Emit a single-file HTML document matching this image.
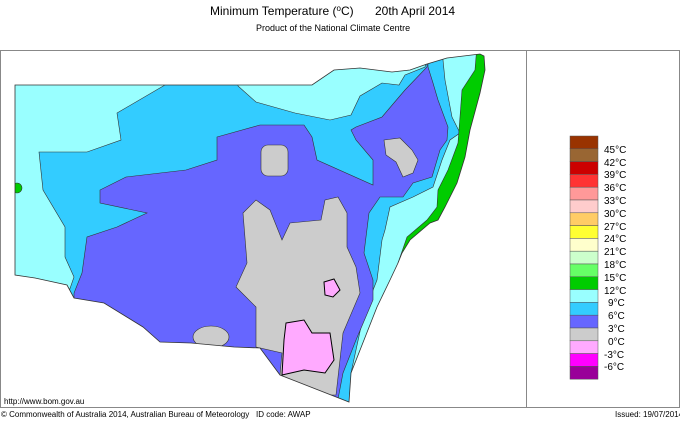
<!DOCTYPE html><html><head><style>
body{margin:0;background:#fff;width:680px;height:420px;overflow:hidden;font-family:"Liberation Sans",Arial,sans-serif}
</style></head><body>
<svg width="680" height="420" viewBox="0 0 680 420" xmlns="http://www.w3.org/2000/svg" font-family="Liberation Sans, Arial, sans-serif">
<text x="210" y="15" font-size="12">Minimum Temperature (<tspan font-size="8" dy="-4">o</tspan><tspan dy="4">C)</tspan></text>
<text x="375" y="15" font-size="12">20th April 2014</text>
<text x="256" y="31" font-size="9">Product of the National Climate Centre</text>
<rect x="0.5" y="50.5" width="679" height="357" fill="none" stroke="#888"/>
<line x1="526.5" y1="50" x2="526.5" y2="408" stroke="#888"/>
<defs><clipPath id="st"><path id="sp" d="M15,85 L312,85 L334,70 L360,68 L392,72 L410,70 L427,64 L447,58 L480,54 L484,56 L485,70 L480,93 L470,130 L465,157 L457,183 L445,207 L438,220 L430,223 L410,240 L402,253 L398,263 L390,280 L377,307 L364,340 L351,373 L349,402 L280,375 L260,348 L234,347 L191,343 L160,342 L143,327 L104,303 L74,298 L67,285 L35,278 L15,275 Z"/></clipPath></defs>
<g clip-path="url(#st)" stroke="#333" stroke-width="0.6">
<rect x="0" y="40" width="520" height="380" fill="#99ffff" stroke="none"/>
<path fill="#33ccff" d="M165,40 L238,40 L238,86 L256,102 L295,113 L330,120 L351,115 L360,96 L382,83 L399,85 L405,75 L425,67 L430,45 L443,45 L443,60 L445,80 L452,117 L460,133 L450,140 L442,160 L433,187 L413,197 L390,207 L385,230 L382,240 L377,280 L364,313 L351,373 L351,420 L66,420 L66,300 L74,277 L65,257 L65,227 L43,190 L39,152 L87,152 L121,140 L117,113 L165,85 Z"/>
<path fill="#00cc00" d="M477,45 L500,45 L500,270 L398,263 L407,237 L427,220 L437,207 L438,190 L448,170 L458,143 L460,117 L462,90 L475,70 Z"/>
<path fill="#6666ff" d="M217,137 L260,125 L304,125 L312,137 L317,160 L373,185 L373,160 L356,140 L351,130 L356,127 L382,117 L399,97 L405,90 L427,67 L428,45 L428,67 L433,83 L438,100 L448,127 L447,140 L440,150 L432,177 L413,183 L403,197 L380,197 L369,213 L364,253 L373,280 L373,300 L356,340 L343,373 L334,420 L74,420 L74,293 L82,273 L87,237 L117,227 L147,213 L100,203 L100,190 L126,177 L186,170 L217,160 Z"/>
<rect x="261" y="145" width="27" height="31" rx="7" fill="#cccccc"/>
<path fill="#cccccc" d="M384,140 L400,138 L412,150 L418,160 L413,173 L403,177 L396,162 L386,155 Z"/>
<path fill="#cccccc" d="M243,213 L256,200 L270,210 L282,240 L290,223 L321,220 L325,200 L338,197 L347,213 L347,247 L356,267 L360,293 L343,333 L336,395 L303,395 L280,375 L282,353 L256,347 L256,307 L236,287 L247,263 Z"/>
<ellipse cx="211" cy="337" rx="18" ry="11" fill="#cccccc"/>
<path fill="#ffaaff" stroke="#000" stroke-width="1" d="M286,323 L304,320 L312,333 L330,333 L334,360 L325,373 L304,370 L282,375 L284,340 Z"/>
<path fill="#ffaaff" stroke="#000" stroke-width="1" d="M324,282 L334,279 L340,290 L333,297 L325,295 Z"/>
<ellipse cx="17" cy="188" rx="5" ry="5" fill="#00cc00"/>
</g>
<use href="#sp" fill="none" stroke="#333" stroke-width="0.8"/>
<g stroke="#555" stroke-width="0.5">
<rect x="570" y="136" width="28" height="12.8" fill="#993300"/>
<rect x="570" y="148.8" width="28" height="12.8" fill="#996633"/>
<rect x="570" y="161.6" width="28" height="12.8" fill="#cc0000"/>
<rect x="570" y="174.4" width="28" height="12.8" fill="#ff3333"/>
<rect x="570" y="187.2" width="28" height="12.8" fill="#ff9999"/>
<rect x="570" y="200" width="28" height="12.8" fill="#ffcccc"/>
<rect x="570" y="212.8" width="28" height="12.8" fill="#ffcc66"/>
<rect x="570" y="225.6" width="28" height="12.8" fill="#ffff33"/>
<rect x="570" y="238.4" width="28" height="12.8" fill="#ffffcc"/>
<rect x="570" y="251.2" width="28" height="12.8" fill="#ccffcc"/>
<rect x="570" y="264" width="28" height="12.8" fill="#66ff66"/>
<rect x="570" y="276.8" width="28" height="12.8" fill="#00cc00"/>
<rect x="570" y="289.6" width="28" height="12.8" fill="#99ffff"/>
<rect x="570" y="302.4" width="28" height="12.8" fill="#33ccff"/>
<rect x="570" y="315.2" width="28" height="12.8" fill="#6666ff"/>
<rect x="570" y="328" width="28" height="12.8" fill="#cccccc"/>
<rect x="570" y="340.8" width="28" height="12.8" fill="#ffaaff"/>
<rect x="570" y="353.6" width="28" height="12.8" fill="#ff00ff"/>
<rect x="570" y="366.4" width="28" height="12.8" fill="#990099"/>
</g>
<g font-size="10" fill="#000">
<text x="604" y="153">45°C</text><text x="604" y="166">42°C</text><text x="604" y="178">39°C</text><text x="604" y="191">36°C</text><text x="604" y="204">33°C</text><text x="604" y="217">30°C</text><text x="604" y="230">27°C</text><text x="604" y="242">24°C</text><text x="604" y="255">21°C</text><text x="604" y="268">18°C</text><text x="604" y="281">15°C</text><text x="604" y="294">12°C</text><text x="608" y="306">9°C</text><text x="608" y="319">6°C</text><text x="608" y="332">3°C</text><text x="608" y="345">0°C</text><text x="604" y="358">-3°C</text><text x="604" y="370">-6°C</text>
</g>
<text x="4" y="404" font-size="8">http://www.bom.gov.au</text>
<text x="1" y="417" font-size="8">© Commonwealth of Australia 2014, Australian Bureau of Meteorology</text>
<text x="256" y="417" font-size="8">ID code: AWAP</text>
<text x="615" y="417" font-size="8">Issued: 19/07/2014</text>
</svg>
</body></html>
